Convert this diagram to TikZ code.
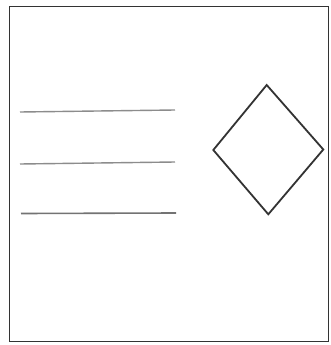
\documentclass[tikz,border=0pt]{standalone}
\begin{document}
\begin{tikzpicture}[x=1pt,y=-1pt,
  frame/.style={draw=black!80,line width=1.8pt},
  rule/.style={draw=black!45,line width=1.4pt},
  rhomb/.style={draw=black!80,line width=1.8pt,line join=miter}]
\useasboundingbox (0,0) rectangle (331,345);
\fill[white] (0,0) rectangle (331,345);
\draw[frame] (9.5,6.5) rectangle (328.5,341.5);
\draw[rule] (20,112) -- (175,110);
\draw[rule] (20,164) -- (175,162);
\draw[rule,draw=black!55,line width=1.6pt] (21,213.5) -- (176,213);
\draw[rhomb] (266.7,85) -- (323.3,149.5) -- (268.3,214.3) -- (213.3,150) -- cycle;
\end{tikzpicture}
\end{document}
